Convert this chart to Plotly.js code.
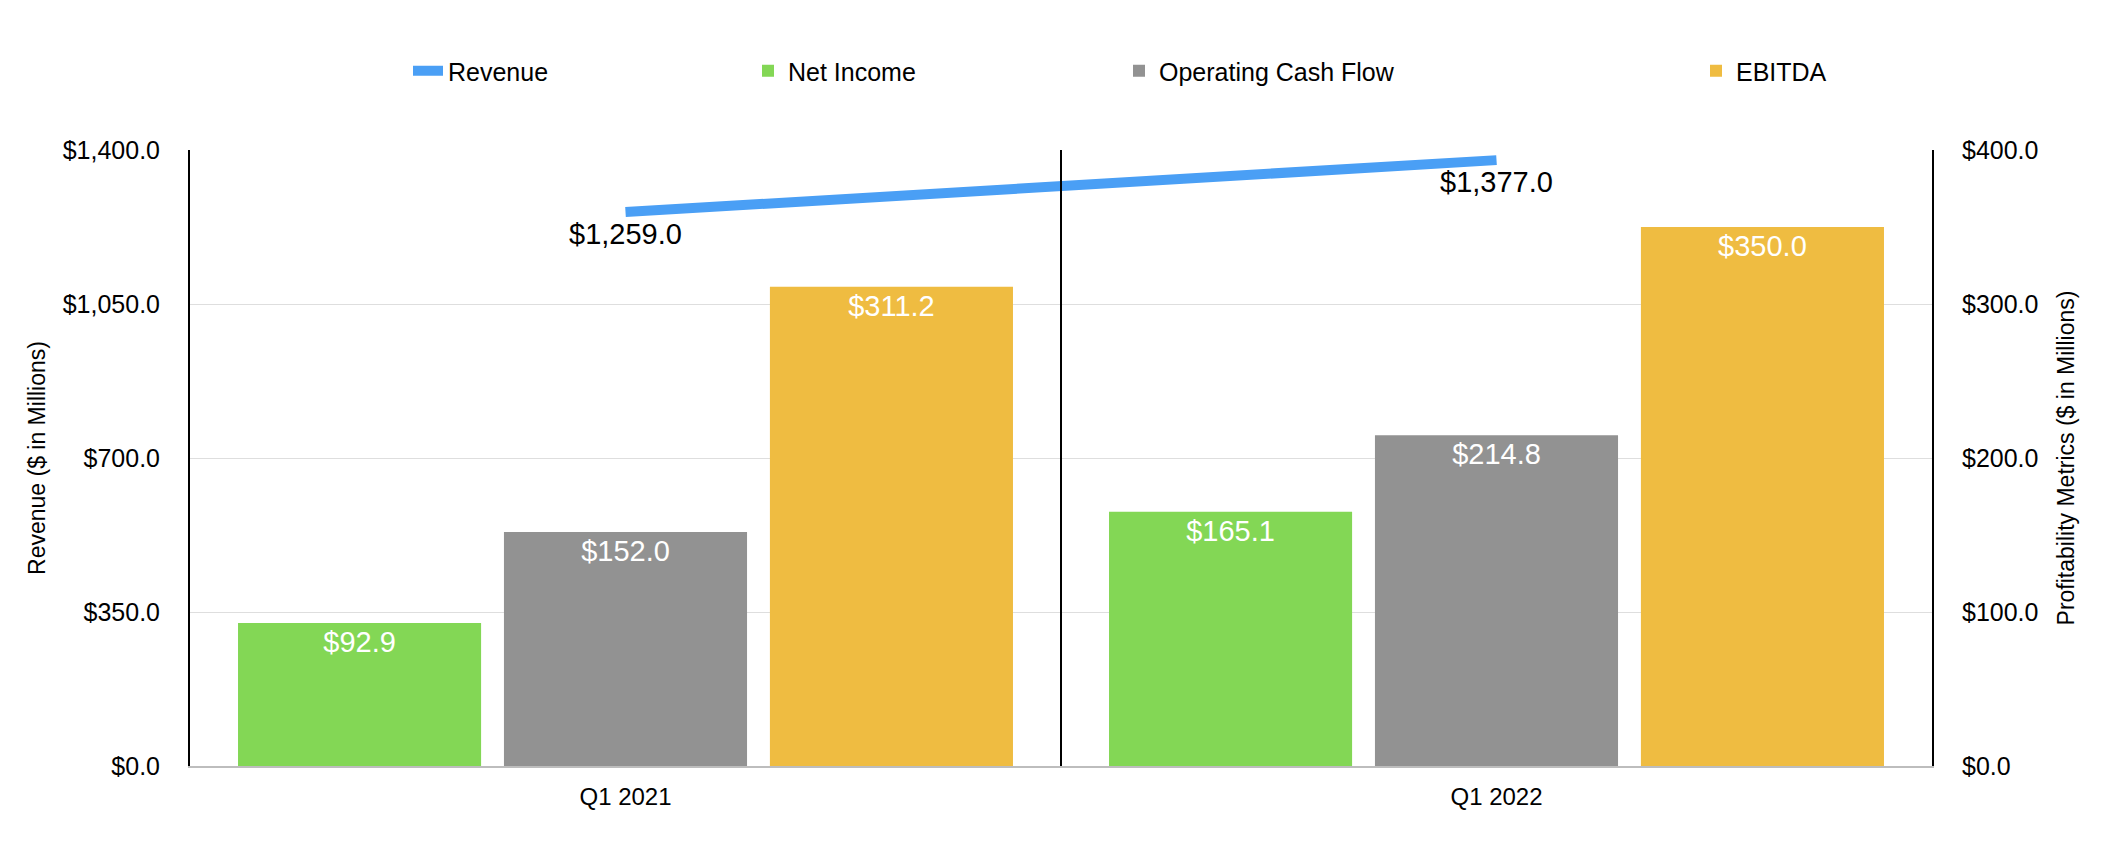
<!DOCTYPE html>
<html><head><meta charset="utf-8">
<script src="https://cdn.plot.ly/plotly-3.0.1.min.js"></script>
<style>html,body{margin:0;padding:0;background:#fff}#chart{width:2112px;height:866px}</style>
</head><body><div id="chart"></div>
<script>
const categories = ["Q1 2021", "Q1 2022"];
const revenue = [1259.0, 1377.0];
const netIncome = [92.9, 165.1];
const operatingCashFlow = [152.0, 214.8];
const ebitda = [311.2, 350.0];
const leftTicks = [0, 350, 700, 1050, 1400];
const rightTicks = [0, 100, 200, 300, 400];

const FONT = "Liberation Sans, Arial, sans-serif";
const fmt = v => "$" + v.toLocaleString("en-US", {minimumFractionDigits: 1, maximumFractionDigits: 1});

function barTrace(name, vals, color, legend) {
  return {
    type: "bar", name: name, x: categories, y: vals, yaxis: "y2",
    marker: {color: color}, text: vals.map(fmt), textposition: "inside",
    insidetextanchor: "end", constraintext: "none",
    textfont: {color: "#ffffff", size: 29, family: FONT},
    legend: legend, hoverinfo: "skip"
  };
}

const traces = [
  barTrace("Net Income", netIncome, "#83D755", "legend2"),
  barTrace("Operating Cash Flow", operatingCashFlow, "#929292", "legend3"),
  barTrace("EBITDA", ebitda, "#EFBC41", "legend4"),
  {type: "scatter", mode: "lines", name: "Revenue", x: categories, y: revenue,
   line: {color: "#4A9FF5", width: 10}, legend: "legend", cliponaxis: false, hoverinfo: "skip"}
];

const revenueLabels = revenue.map((v, i) => ({
  xref: "x", yref: "y", x: categories[i], y: v, text: fmt(v), showarrow: false,
  yanchor: "middle", yshift: -22,
  font: {color: "#000", size: 29, family: FONT}
}));

const L = 190, R = 180, T = 150, B = 100;
const W = 2112 - L - R, H = 866 - T - B;
const lx = px => (px - L) / W;
const ly = py => (866 - B - py) / H;
function leg(px) {
  return {x: lx(px), y: ly(71), xanchor: "left", yanchor: "middle", orientation: "h",
          font: {size: 25, family: FONT, color: "#000"}, bgcolor: "rgba(0,0,0,0)"};
}

const layout = {
  width: 2112, height: 866,
  margin: {l: L, r: R, t: T, b: B},
  paper_bgcolor: "#fff", plot_bgcolor: "#fff",
  font: {family: FONT, color: "#000"},
  barmode: "group", bargap: 0.084, bargroupgap: 0.086,
  showlegend: true,
  legend: leg(408), legend2: leg(748), legend3: leg(1119), legend4: leg(1696),
  xaxis: {type: "category", showgrid: false, showline: true, linecolor: "#bdbdbd", linewidth: 2,
          ticks: "", tickfont: {size: 24, family: FONT}, ticklabelstandoff: 8, fixedrange: true},
  yaxis: {range: [0, 1400], tickvals: leftTicks, ticktext: leftTicks.map(fmt),
          showgrid: true, gridcolor: "#dedede", gridwidth: 1, zeroline: false,
          showline: true, linecolor: "#000", linewidth: 2, ticks: "",
          tickfont: {size: 25, family: FONT}, ticklabelstandoff: 23,
          title: {text: "Revenue ($ in Millions)", font: {size: 23, family: FONT}, standoff: 11}},
  yaxis2: {range: [0, 400], tickvals: rightTicks, ticktext: rightTicks.map(fmt),
           overlaying: "y", side: "right", showgrid: false, zeroline: false,
           showline: true, linecolor: "#000", linewidth: 2, ticks: "",
           tickfont: {size: 25, family: FONT}, ticklabelstandoff: 23,
           title: {text: "Profitability Metrics ($ in Millions)", font: {size: 23, family: FONT}, standoff: 20}},
  shapes: [{type: "line", xref: "x", yref: "paper", x0: 0.5, x1: 0.5, y0: 0, y1: 1,
            line: {color: "#000", width: 2}}],
  annotations: revenueLabels
};

Plotly.newPlot("chart", traces, layout, {displayModeBar: false, staticPlot: true});
</script></body></html>
